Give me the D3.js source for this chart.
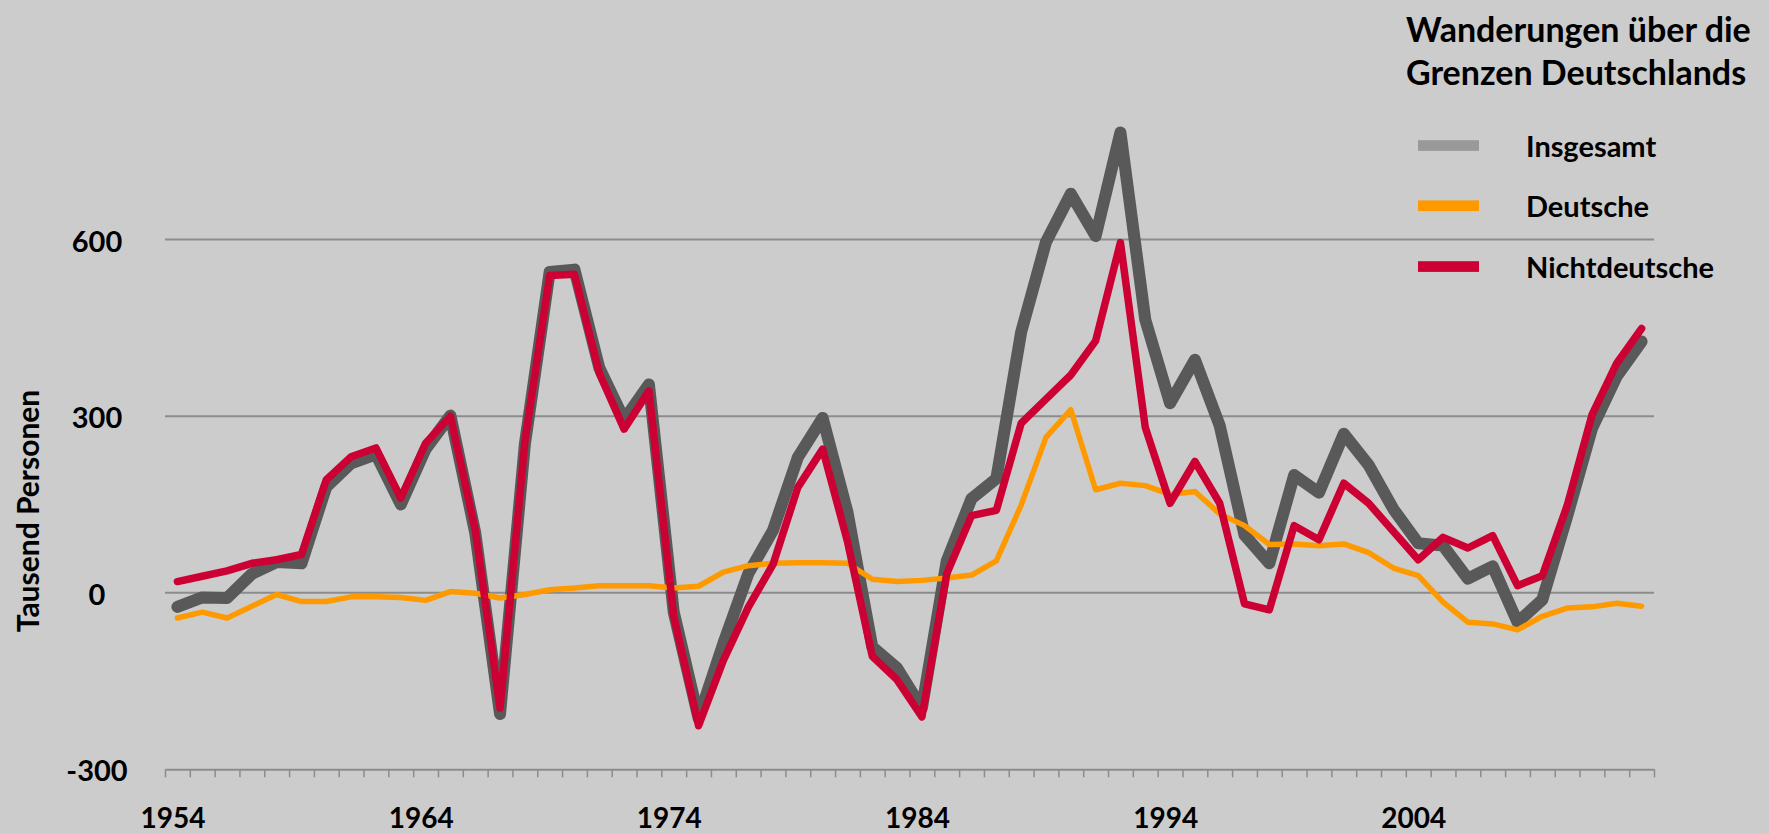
<!DOCTYPE html>
<html>
<head>
<meta charset="utf-8">
<script src="https://cdn.jsdelivr.net/npm/d3@7"></script>
<style>
    html, body { margin:0; padding:0; background:#cccccc; }
    svg { display:block; font-family:Lato, 'Open Sans', sans-serif; }
</style>
</head>
<body>
<svg id="chart" width="1769" height="834"></svg>
<script>
(function(window) {
    'use strict';

    var years = d3.range(1954, 2014);

    var insgesamt = [
        -24, -8, -9, 32, 52, 50, 180, 220, 235, 150,
        244, 301, 102, -206, 252, 545, 549, 382, 294, 354,
        -33, -213, -86, 32, 106, 230, 297, 137, -92, -128,
        -196, 54, 160, 194, 443, 596, 678, 606, 782, 464,
        322, 396, 284, 98, 50, 200, 170, 270, 217, 142,
        84, 80, 24, 45, -50, -12, 130, 279, 368, 427 ];

    var deutsche = [
        -43, -33, -43, -23, -3, -15, -15, -7, -7, -8,
        -13, 2, -1, -9, -3, 5, 8, 12, 12, 12,
        8, 11, 35, 46, 50, 51, 51, 50, 23, 19,
        21, 25, 30, 54, 149, 264, 311, 175, 186, 182,
        167, 172, 134, 114, 82, 83, 80, 83, 68, 42,
        29, -16, -50, -53, -63, -40, -26, -24, -18, -23 ];

    var nichtdeutsche = [
        19, 28, 37, 50, 56, 65, 192, 231, 246, 161,
        254, 300, 107, -196, 257, 539, 541, 373, 278, 343,
        -40, -226, -115, -25, 48, 179, 244, 87, -108, -148,
        -211, 32, 131, 140, 288, 329, 370, 428, 595, 281,
        152, 223, 152, -19, -29, 114, 90, 186, 152, 104,
        56, 94, 76, 97, 12, 29, 148, 302, 390, 449 ];

    var yTicks = [-300, 0, 300, 600],
        xLabels = [1954, 1964, 1974, 1984, 1994, 2004];

    var series = [
        { name:'Insgesamt',     values:insgesamt,     color:'#595959', swatch:'#999999', width:12 },
        { name:'Deutsche',      values:deutsche,      color:'#ff9900', swatch:'#ff9900', width:5.5 },
        { name:'Nichtdeutsche', values:nichtdeutsche, color:'#cc0033', swatch:'#cc0033', width:7.5 }
    ];

    var svg = d3.select('#chart');

    var left = 165, right = 1654, top = 239.6, bottom = 769.3;

    var x = d3.scaleBand()
        .domain(years)
        .range([left, right]);

    var xEdge = d3.scaleLinear()
        .domain([1954, 2014])
        .range([left, right]);

    var y = d3.scaleLinear()
        .domain([-300, 600])
        .range([bottom, top]);

    // shrink a text until it is no wider than the given width
    function fit(sel, width) {
        sel.each(function() {
            var node = this,
                size = parseFloat(d3.select(node).style('font-size'));
            var len = node.getComputedTextLength();
            if (len > width) d3.select(node).style('font-size', (size * width / len) +'px');
        });
    }

    /******************************************************************
        grid and axes
     ******************************************************************/
    svg.append('g')
        .attr('class','grid')
        .selectAll('line')
        .data(yTicks.filter(function(d){ return d > -300; })).enter()
            .append('line')
                .attr('x1', left)
                .attr('x2', right)
                .attr('y1', function(d){ return y(d); })
                .attr('y2', function(d){ return y(d); })
                .style('stroke', '#8c8c8c')
                .style('stroke-width', 2);

    var xAxis = svg.append('g')
        .attr('class','x-axis')
        .attr('transform','translate(0,'+ y(-300) +')')
        .call(d3.axisBottom(xEdge)
            .tickValues(d3.range(1954, 2015))
            .tickFormat('')
            .tickSize(8)
            .tickSizeOuter(0));

    xAxis.select('.domain')
        .style('stroke', '#8c8c8c')
        .style('stroke-width', 2);

    xAxis.selectAll('.tick line')
        .style('stroke', '#8c8c8c')
        .style('stroke-width', 1.5);

    svg.append('g')
        .attr('class','x-labels')
        .selectAll('text')
        .data(xLabels).enter()
            .append('text')
                .attr('x', function(d){ return x(d) + 8; })
                .attr('y', 828)
                .attr('text-anchor','middle')
                .style('font-size','28px')
                .style('font-weight', 700)
                .style('fill', '#000')
                .text(function(d){ return d; });

    svg.append('g')
        .attr('class','y-labels')
        .selectAll('text')
        .data(yTicks).enter()
            .append('text')
                .attr('x', 97)
                .attr('y', function(d){ return y(d) + 12; })
                .attr('text-anchor','middle')
                .style('font-size','29px')
                .style('font-weight', 700)
                .style('fill', '#000')
                .text(function(d){ return d; });

    svg.append('text')
        .attr('transform','translate(39,511) rotate(-90)')
        .attr('text-anchor','middle')
        .style('font-size','30px')
        .style('font-weight', 700)
        .style('fill', '#000')
        .text('Tausend Personen');

    /******************************************************************
        lines
     ******************************************************************/
    var line = d3.line()
        .x(function(d,i){ return x(years[i]) + x.bandwidth() / 2; })
        .y(function(d){ return y(d); });

    svg.append('g')
        .attr('class','lines')
        .selectAll('path')
        .data(series).enter()
            .append('path')
                .attr('d', function(d){ return line(d.values); })
                .style('fill','none')
                .style('stroke', function(d){ return d.color; })
                .style('stroke-width', function(d){ return d.width; })
                .style('stroke-linejoin','round')
                .style('stroke-linecap','round');

    /******************************************************************
        title and legend
     ******************************************************************/
    svg.append('text')
        .attr('x', 1406)
        .attr('y', 41.7)
        .style('font-size','34px')
        .style('font-weight', 700)
        .style('fill', '#000')
        .text('Wanderungen über die')
        .call(fit, 356);

    svg.append('text')
        .attr('x', 1406)
        .attr('y', 85)
        .style('font-size','34px')
        .style('font-weight', 700)
        .style('fill', '#000')
        .text('Grenzen Deutschlands')
        .call(fit, 354);

    var legend = svg.append('g')
        .attr('class','legend')
        .selectAll('g')
        .data(series).enter()
            .append('g')
                .attr('transform', function(d,i){ return 'translate(0,'+ [145.5, 205.7, 266.5][i] +')'; });

    legend.append('rect')
        .attr('x', 1418)
        .attr('y', -5.3)
        .attr('width', 61)
        .attr('height', 10.7)
        .style('fill', function(d){ return d.swatch; });

    legend.append('text')
        .attr('x', 1526)
        .attr('y', 11)
        .style('font-size','29px')
        .style('font-weight', 700)
        .style('fill', '#000')
        .text(function(d){ return d.name; });

})(window);
</script>
</body>
</html>
